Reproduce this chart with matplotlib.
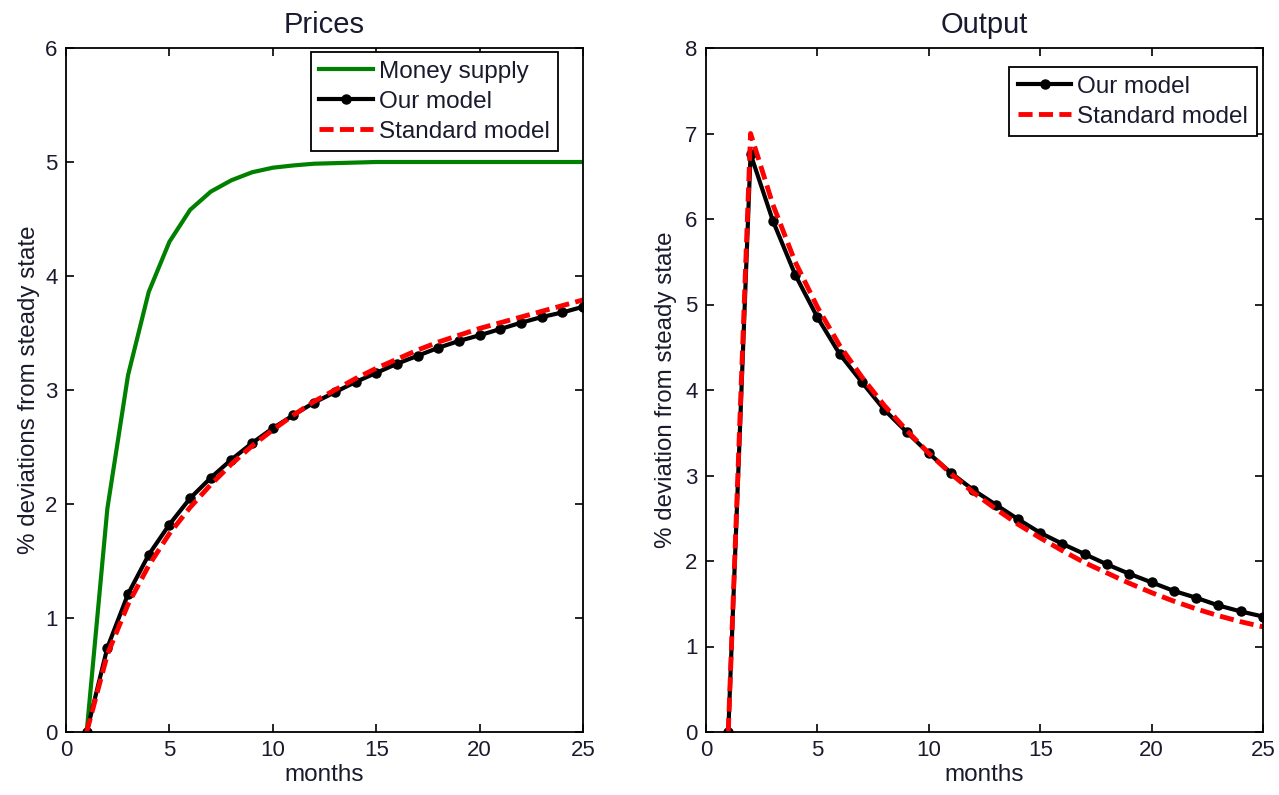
import matplotlib.pyplot as plt

plt.rcParams['font.family'] = ['Liberation Sans', 'DejaVu Sans']

months = list(range(1, 26))

# Prices: impulse responses (% deviation from steady state)
money_supply = [0.0, 1.96, 3.13, 3.86, 4.30, 4.58, 4.74, 4.84, 4.91, 4.95,
                4.97, 4.985, 4.99, 4.995, 5.0, 5.0, 5.0, 5.0, 5.0, 5.0,
                5.0, 5.0, 5.0, 5.0, 5.0]
prices_ours = [0.0, 0.74, 1.21, 1.555, 1.82, 2.05, 2.23, 2.39, 2.535, 2.665,
               2.78, 2.89, 2.98, 3.07, 3.15, 3.23, 3.30, 3.37, 3.43, 3.48,
               3.535, 3.59, 3.64, 3.68, 3.73]
prices_std = [0.0, 0.68, 1.12, 1.46, 1.74, 1.97, 2.17, 2.35, 2.51, 2.65,
              2.78, 2.90, 3.00, 3.10, 3.19, 3.27, 3.35, 3.42, 3.48, 3.54,
              3.59, 3.64, 3.69, 3.74, 3.79]

# Output
output_ours = [0.0, 6.76, 5.98, 5.35, 4.85, 4.42, 4.09, 3.77, 3.51, 3.26,
               3.03, 2.83, 2.66, 2.49, 2.33, 2.20, 2.08, 1.96, 1.85, 1.75,
               1.65, 1.57, 1.48, 1.41, 1.35]
output_std = [0.0, 7.0, 6.17, 5.50, 4.97, 4.52, 4.15, 3.82, 3.53, 3.26,
              3.02, 2.80, 2.61, 2.43, 2.27, 2.12, 1.98, 1.86, 1.74, 1.63,
              1.53, 1.44, 1.36, 1.29, 1.23]

txt = '#1a1a2e'
dash = (0, (2.9, 1.3))

fig = plt.figure(figsize=(12.79, 7.95), dpi=100)
ax1 = fig.add_axes([66 / 1279, 63 / 795, 517 / 1279, 684 / 795])
ax2 = fig.add_axes([706 / 1279, 63 / 795, 557 / 1279, 684 / 795])

ax1.plot(months, money_supply, color='#008000', lw=3, label='Money supply')
ax1.plot(months, prices_ours, color='black', lw=3, marker='o', ms=6.5,
         label='Our model')
ax1.plot(months, prices_std, color='red', lw=3.5, ls=dash,
         label='Standard model')
ax1.set_xlim(0, 25)
ax1.set_ylim(0, 6)
ax1.set_title('Prices', fontsize=21, color=txt, pad=11)
ax1.set_ylabel('% deviations from steady state', fontsize=17.4, color=txt,
               labelpad=4)
ax1.set_xlabel('months', fontsize=17.5, color=txt, labelpad=2)

ax2.plot(months, output_ours, color='black', lw=3, marker='o', ms=6.5,
         label='Our model')
ax2.plot(months, output_std, color='red', lw=3.5, ls=dash,
         label='Standard model')
ax2.set_xlim(0, 25)
ax2.set_ylim(0, 8)
ax2.set_title('Output', fontsize=21, color=txt, pad=11)
ax2.set_ylabel('% deviation from steady state', fontsize=17.4, color=txt,
               labelpad=6)
ax2.set_xlabel('months', fontsize=17.5, color=txt, labelpad=2)

for ax, anchor in ((ax1, (0.952, 0.994)), (ax2, (0.989, 0.972))):
    ax.set_xticks([0, 5, 10, 15, 20, 25])
    ax.tick_params(direction='in', top=True, right=True, length=6, width=1.2,
                   labelsize=16, labelcolor=txt, pad=6)
    for s in ax.spines.values():
        s.set_linewidth(1.3)
    leg = ax.legend(loc='upper right', bbox_to_anchor=anchor, fontsize=17.5,
                    frameon=True, fancybox=False, edgecolor='black',
                    framealpha=1, borderaxespad=0, handlelength=2.2,
                    handletextpad=0.25, labelspacing=0.33, borderpad=0.35)
    leg.get_frame().set_linewidth(1.3)
    for t in leg.get_texts():
        t.set_color(txt)

fig.savefig('out.png', dpi=100)
